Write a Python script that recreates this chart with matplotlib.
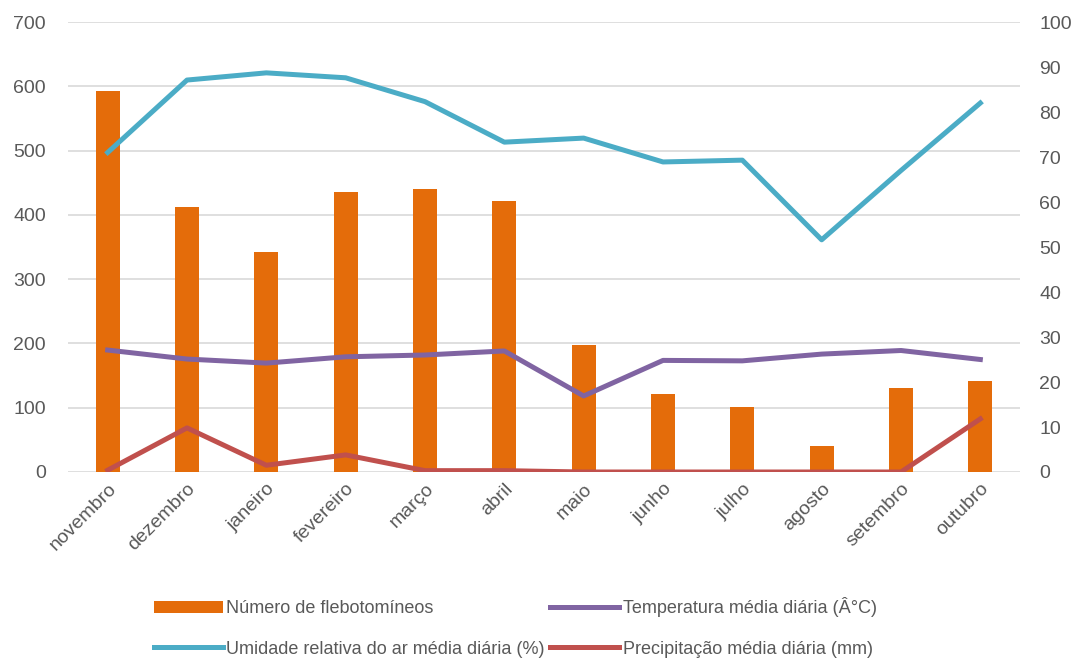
import matplotlib

matplotlib.use("Agg")

import matplotlib.pyplot as plt
import numpy as np

# monthly series, november to october
months = ["novembro", "dezembro", "janeiro", "fevereiro", "março", "abril",
          "maio", "junho", "julho", "agosto", "setembro", "outubro"]
flebotomineos = [593, 413, 343, 436, 440, 422, 197, 121, 101, 40, 130, 142]
umidade = [71.0, 87.1, 88.7, 87.6, 82.3, 73.3, 74.2, 68.9, 69.3, 51.6, 67.0, 82.0]
temperatura = [27.1, 25.1, 24.2, 25.6, 26.0, 26.9, 16.9, 24.8, 24.7, 26.2, 27.0, 25.0]
precipitacao = [0.4, 9.8, 1.5, 3.8, 0.3, 0.3, 0.0, 0.0, 0.0, 0.0, 0.0, 11.8]

plt.rcParams["font.family"] = ["Liberation Sans", "DejaVu Sans"]

text_color = "#595959"
grid_color = "#D9D9D9"

fig = plt.figure(figsize=(10.88, 6.6), dpi=100)
ax = fig.add_axes([68 / 1088, 1 - 472 / 660, (1020 - 68) / 1088, 450 / 660])
ax2 = ax.twinx()

x = np.arange(len(months))
bars = ax.bar(x, flebotomineos, width=0.3, color="#E46C0A", zorder=2,
              label="Número de flebotomíneos")

lw = 3.6
(l_temp,) = ax2.plot(x, temperatura, color="#8064A2", lw=lw,
                     label="Temperatura média diária (Â°C)")
(l_umid,) = ax2.plot(x, umidade, color="#4BACC6", lw=lw,
                     label="Umidade relativa do ar média diária (%)")
(l_prec,) = ax2.plot(x, precipitacao, color="#C0504D", lw=lw,
                     label="Precipitação média diária (mm)")

ax.set_xlim(-0.5, len(months) - 0.5)
ax.set_ylim(0, 700)
ax.set_yticks(range(0, 701, 100))
ax2.set_ylim(0, 100)
ax2.set_yticks(range(0, 101, 10))

ax.yaxis.grid(True, color=grid_color, lw=1.2, zorder=0)
ax.set_axisbelow(True)
for a in (ax, ax2):
    for s in a.spines.values():
        s.set_visible(False)
    a.tick_params(length=0, labelsize=14, colors=text_color)
ax.tick_params(axis="y", pad=16)
ax2.tick_params(axis="y", pad=14)

ax.set_xticks(x)
ax.set_xticklabels(months, rotation=45, ha="right", rotation_mode="anchor")
ax.tick_params(axis="x", pad=6)

# legend rows: bars + temperature, then humidity + rain
fig.legend(handles=[bars, l_umid, l_temp, l_prec], ncol=2, frameon=False,
           loc="upper left", bbox_to_anchor=(138 / 1088, 1 - 581 / 660),
           fontsize=13, labelcolor=text_color, handlelength=3.8,
           handletextpad=0.2, columnspacing=0.3, labelspacing=1.3)

fig.savefig("out.png", dpi=100)
